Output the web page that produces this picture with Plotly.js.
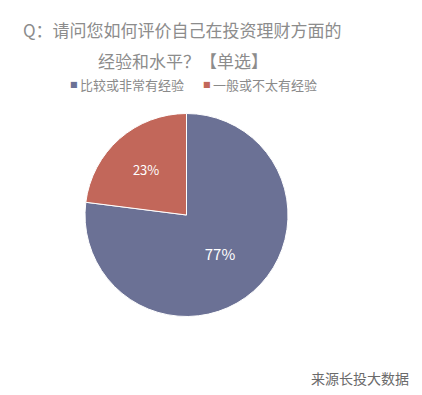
<!DOCTYPE html>
<html><head><meta charset="utf-8">
<script src="https://cdn.plot.ly/plotly-3.0.1.min.js"></script>
<style>html,body{margin:0;padding:0;background:#fff}</style>
</head><body>
<div id="chart" style="width:422px;height:395px"></div>
<script>
const categories = ["比较或非常有经验", "一般或不太有经验"];
const values = [77, 23];
const colors = ["#6b7195", "#c2675a"];
const titleLine1 = "Q：请问您如何评价自己在投资理财方面的";
const titleLine2 = "经验和水平？【单选】";
const sourceText = "来源长投大数据";

const font = "'Noto Sans CJK SC', 'Microsoft YaHei', sans-serif";

// legend built as annotations from the category/color arrays
const legendX = [68, 201];
const legendAnn = [];
categories.forEach((c, i) => {
  legendAnn.push({text: "■", xref: "paper", yref: "paper", x: legendX[i]/422, y: 1 - 84/395,
    xanchor: "left", yanchor: "middle", showarrow: false,
    font: {family: "DejaVu Sans", size: 8, color: colors[i]}});
  legendAnn.push({text: c, xref: "paper", yref: "paper", x: (legendX[i] + 10)/422, y: 1 - 84/395,
    xanchor: "left", yanchor: "middle", showarrow: false,
    font: {family: font, size: 13, color: "#8a8a8a"}});
});

Plotly.newPlot("chart", [{
  type: "pie",
  labels: categories,
  values: values,
  sort: false,
  direction: "clockwise",
  rotation: 0,
  marker: {colors: colors, line: {color: "#ffffff", width: 1}},
  textinfo: "percent",
  texttemplate: "%{percent:.0%}",
  textposition: "inside",
  insidetextfont: {color: "#ffffff", size: [15, 13], family: font},
  hoverinfo: "none",
  showlegend: false,
  domain: {x: [85/422, 288/422], y: [1 - 317/395, 1 - 113/395]}
}], {
  width: 422, height: 395,
  margin: {l: 0, r: 0, t: 0, b: 0},
  paper_bgcolor: "#ffffff",
  showlegend: false,
  annotations: [
    {text: titleLine1, xref: "paper", yref: "paper", x: 21/422, y: 1 - 30/395,
     xanchor: "left", yanchor: "middle", showarrow: false,
     font: {family: font, size: 17, color: "#8c8c8c"}},
    {text: titleLine2, xref: "paper", yref: "paper", x: 183/422, y: 1 - 60/395,
     xanchor: "center", yanchor: "middle", showarrow: false,
     font: {family: font, size: 17, color: "#8c8c8c"}},
    {text: sourceText, xref: "paper", yref: "paper", x: 411/422, y: 1 - 378/395,
     xanchor: "right", yanchor: "middle", showarrow: false,
     font: {family: font, size: 14, color: "#6a6a6a"}}
  ].concat(legendAnn)
}, {displayModeBar: false, staticPlot: true});
</script>
</body></html>
